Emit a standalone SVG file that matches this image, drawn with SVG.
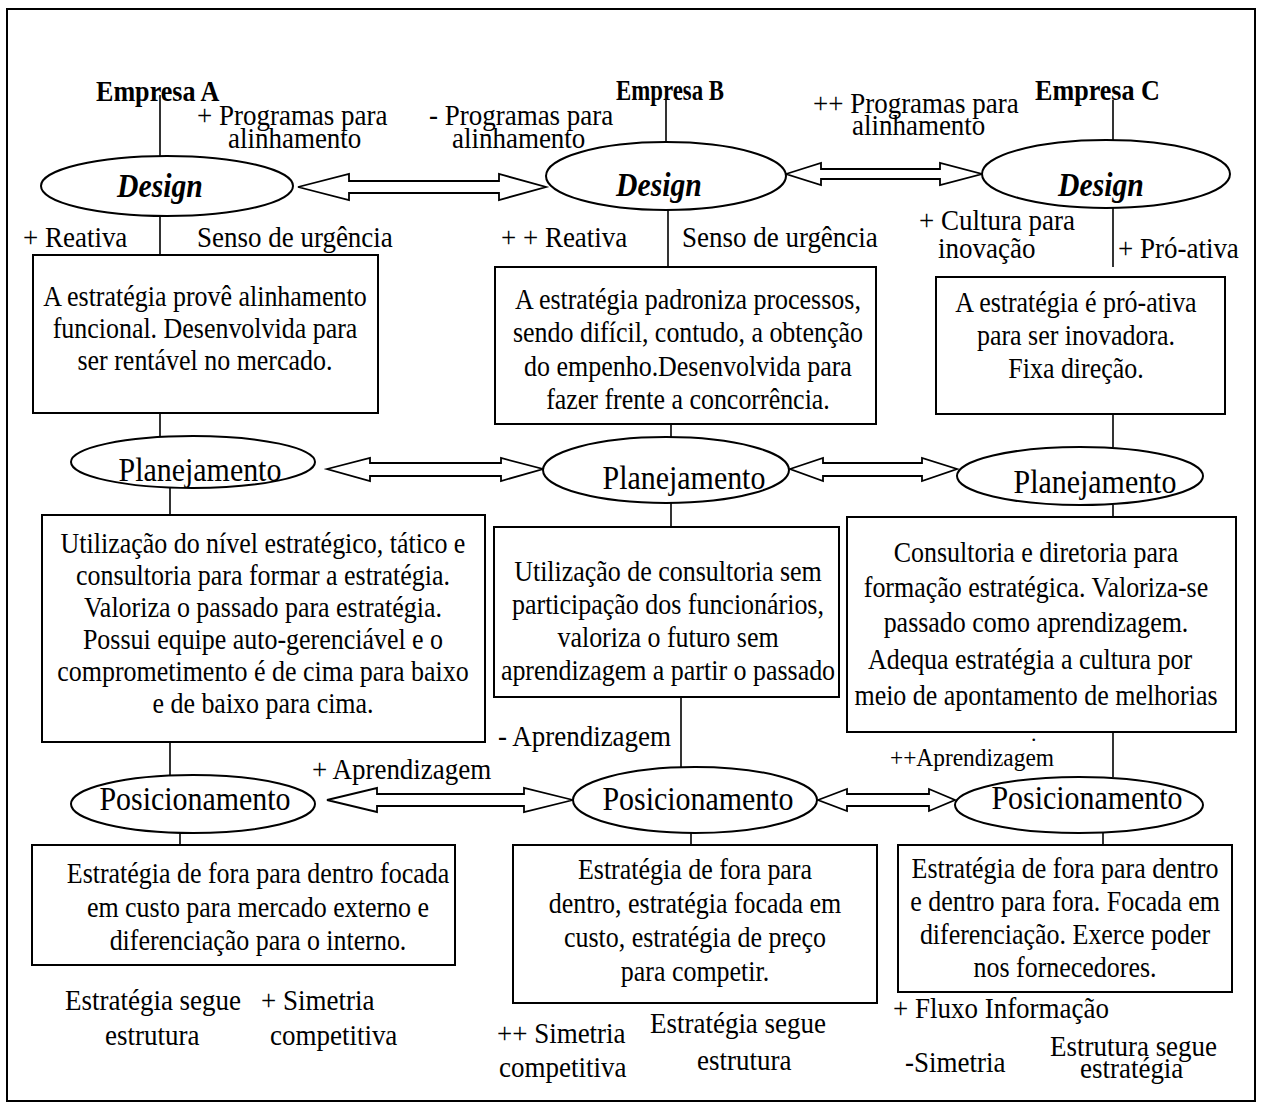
<svg xmlns="http://www.w3.org/2000/svg" width="1261" height="1106" viewBox="0 0 1261 1106">
  <style>
    .frame { fill: #fff; stroke: #000; stroke-width: 2; }
    .box { fill: #fff; stroke: #000; stroke-width: 2; }
    .oval { fill: #fff; stroke: #000; stroke-width: 2; }
    .link { stroke: #000; stroke-width: 1.6; fill: none; }
    .dbl { fill: #fff; stroke: #000; stroke-width: 1.8; stroke-linejoin: miter; }
    text { font-family: "Liberation Serif", "Times New Roman", serif; fill: #000; transform-box: fill-box; }
    /* narrow, tall serif look: larger size squeezed horizontally */
    .t { font-size: 29.5px; text-anchor: middle; transform-origin: 50% 50%; transform: scaleX(0.88); }
    .lbl { font-size: 30px; transform-origin: 0% 50%; transform: scaleX(0.9); }
    .oname { font-size: 34px; text-anchor: middle; transform-origin: 50% 50%; transform: scaleX(0.88); }
    .design { font-size: 33px; font-weight: bold; font-style: italic; text-anchor: middle; transform-origin: 50% 50%; transform: scaleX(0.9); }
    .firm { font-size: 29px; font-weight: bold; transform-origin: 0% 50%; transform: scaleX(0.9); }
    .dot { font-size: 22px; }
  </style>

  <rect class="frame" x="7" y="9" width="1248" height="1092"/>

  <!-- vertical links and double arrows -->
  <g id="connectors">
    <line class="link" x1="160" y1="95" x2="160" y2="156"/>
    <line class="link" x1="666" y1="100" x2="666" y2="142"/>
    <line class="link" x1="1113" y1="100" x2="1113" y2="141"/>

    <line class="link" x1="160" y1="216" x2="160" y2="255"/>
    <line class="link" x1="668" y1="210" x2="668" y2="267"/>
    <line class="link" x1="1113" y1="208" x2="1113" y2="267"/>

    <line class="link" x1="160" y1="413" x2="160" y2="437"/>
    <line class="link" x1="671" y1="424" x2="671" y2="437"/>
    <line class="link" x1="1113" y1="414" x2="1113" y2="447"/>

    <line class="link" x1="170" y1="488" x2="170" y2="515"/>
    <line class="link" x1="671" y1="503" x2="671" y2="527"/>
    <line class="link" x1="1113" y1="505" x2="1113" y2="517"/>

    <line class="link" x1="170" y1="742" x2="170" y2="775"/>
    <line class="link" x1="681" y1="697" x2="681" y2="767"/>
    <line class="link" x1="1113" y1="732" x2="1113" y2="777"/>

    <line class="link" x1="180" y1="833" x2="180" y2="845"/>
    <line class="link" x1="691" y1="833" x2="691" y2="845"/>
    <line class="link" x1="1103" y1="833" x2="1103" y2="845"/>

    <!-- Design row -->
    <polygon class="dbl" points="298,187 349,174 349,181 499,181 499,174 546,187 499,200 499,193 349,193 349,200"/>
    <polygon class="dbl" points="786,174 821,163 821,169 940,169 940,163 982,174 940,185 940,179 821,179 821,185"/>
    <!-- Planejamento row -->
    <polygon class="dbl" points="327,469 370,458 370,463 501,463 501,458 543,469 501,481 501,476 370,476 370,481"/>
    <polygon class="dbl" points="790,469 823,458 823,463 922,463 922,458 957,469 922,481 922,476 823,476 823,481"/>
    <!-- Posicionamento row -->
    <polygon class="dbl" points="327,800 377,788 377,794 524,794 524,788 573,800 524,812 524,806 377,806 377,812"/>
    <polygon class="dbl" points="818,800 847,789 847,794 929,794 929,789 955,800 929,811 929,806 847,806 847,811"/>
  </g>

  <!-- company headers -->
  <g id="empresa-a"><text class="firm" x="96" y="101">Empresa A</text></g>
  <g id="empresa-b"><text class="firm" x="616" y="100" textLength="120" lengthAdjust="spacingAndGlyphs">Empresa B</text></g>
  <g id="empresa-c"><text class="firm" x="1035" y="100">Empresa C</text></g>

  <!-- Design -->
  <g id="design-a"><ellipse class="oval" cx="167" cy="186" rx="126" ry="30"/><text class="design" x="160" y="197">Design</text></g>
  <g id="design-b"><ellipse class="oval" cx="666" cy="176" rx="120" ry="34"/><text class="design" x="659" y="196">Design</text></g>
  <g id="design-c"><ellipse class="oval" cx="1106" cy="174" rx="124" ry="34"/><text class="design" x="1101" y="196">Design</text></g>

  <!-- labels around the Design row -->
  <g id="labels-design">
    <text class="lbl" x="197" y="125">+ Programas para</text>
    <text class="lbl" x="228" y="148">alinhamento</text>
    <text class="lbl" x="429" y="125">- Programas para</text>
    <text class="lbl" x="452" y="148">alinhamento</text>
    <text class="lbl" x="813" y="113">++ Programas para</text>
    <text class="lbl" x="852" y="135">alinhamento</text>
    <text class="lbl" x="23" y="247">+ Reativa</text>
    <text class="lbl" x="197" y="247">Senso de urgência</text>
    <text class="lbl" x="501" y="247">+ + Reativa</text>
    <text class="lbl" x="682" y="247">Senso de urgência</text>
    <text class="lbl" x="919" y="230">+ Cultura para</text>
    <text class="lbl" x="938" y="258">inovação</text>
    <text class="lbl" x="1118" y="258">+ Pró-ativa</text>
  </g>

  <!-- strategy boxes -->
  <g id="estrategia-a">
    <rect class="box" x="33" y="255" width="345" height="158"/>
    <text class="t" x="205" y="306">A estratégia provê alinhamento</text>
    <text class="t" x="205" y="338">funcional. Desenvolvida para</text>
    <text class="t" x="205" y="370">ser rentável no mercado.</text>
  </g>
  <g id="estrategia-b">
    <rect class="box" x="495" y="267" width="381" height="157"/>
    <text class="t" x="688" y="309">A estratégia padroniza processos,</text>
    <text class="t" x="688" y="342">sendo difícil, contudo, a obtenção</text>
    <text class="t" x="688" y="376">do empenho.Desenvolvida para</text>
    <text class="t" x="688" y="409">fazer frente a concorrência.</text>
  </g>
  <g id="estrategia-c">
    <rect class="box" x="936" y="277" width="289" height="137"/>
    <text class="t" x="1076" y="312">A estratégia é pró-ativa</text>
    <text class="t" x="1076" y="345">para ser inovadora.</text>
    <text class="t" x="1076" y="378">Fixa direção.</text>
  </g>

  <!-- Planejamento -->
  <g id="planejamento-a"><ellipse class="oval" cx="193" cy="462" rx="122" ry="26"/><text class="oname" x="200" y="481">Planejamento</text></g>
  <g id="planejamento-b"><ellipse class="oval" cx="666" cy="470" rx="123" ry="33"/><text class="oname" x="684" y="489">Planejamento</text></g>
  <g id="planejamento-c"><ellipse class="oval" cx="1080" cy="476" rx="123" ry="29"/><text class="oname" x="1095" y="493">Planejamento</text></g>

  <!-- planning boxes -->
  <g id="planejamento-texto-a">
    <rect class="box" x="42" y="515" width="443" height="227"/>
    <text class="t" x="263" y="553">Utilização do nível estratégico, tático e</text>
    <text class="t" x="263" y="585">consultoria para formar a estratégia.</text>
    <text class="t" x="263" y="617">Valoriza o passado para estratégia.</text>
    <text class="t" x="263" y="649">Possui equipe auto-gerenciável e o</text>
    <text class="t" x="263" y="681">comprometimento é de cima para baixo</text>
    <text class="t" x="263" y="713">e de baixo para cima.</text>
  </g>
  <g id="planejamento-texto-b">
    <rect class="box" x="494" y="527" width="345" height="170"/>
    <text class="t" x="668" y="581">Utilização de consultoria sem</text>
    <text class="t" x="668" y="614">participação dos funcionários,</text>
    <text class="t" x="668" y="647">valoriza o futuro sem</text>
    <text class="t" x="668" y="680">aprendizagem a partir o passado</text>
  </g>
  <g id="planejamento-texto-c">
    <rect class="box" x="847" y="517" width="389" height="215"/>
    <text class="t" x="1036" y="562">Consultoria e diretoria para</text>
    <text class="t" x="1036" y="597">formação estratégica. Valoriza-se</text>
    <text class="t" x="1036" y="632">passado como aprendizagem.</text>
    <text class="t" x="1030" y="669">Adequa estratégia a cultura por</text>
    <text class="t" x="1036" y="705">meio de apontamento de melhorias</text>
    <text class="dot" x="1031" y="741">.</text>
  </g>

  <!-- labels around the Posicionamento row -->
  <g id="labels-aprendizagem">
    <text class="lbl" x="498" y="746">- Aprendizagem</text>
    <text class="lbl" x="312" y="779">+ Aprendizagem</text>
    <text class="lbl" x="890" y="766" style="font-size:26px">++Aprendizagem</text>
  </g>

  <!-- Posicionamento -->
  <g id="posicionamento-a"><ellipse class="oval" cx="193" cy="804" rx="122" ry="29"/><text class="oname" x="195" y="810">Posicionamento</text></g>
  <g id="posicionamento-b"><ellipse class="oval" cx="695" cy="800" rx="122" ry="33"/><text class="oname" x="698" y="810">Posicionamento</text></g>
  <g id="posicionamento-c"><ellipse class="oval" cx="1079" cy="805" rx="124" ry="28"/><text class="oname" x="1087" y="809">Posicionamento</text></g>

  <!-- positioning boxes -->
  <g id="posicionamento-texto-a">
    <rect class="box" x="32" y="845" width="423" height="120"/>
    <text class="t" x="258" y="883">Estratégia de fora para dentro focada</text>
    <text class="t" x="258" y="917">em custo para mercado externo e</text>
    <text class="t" x="258" y="950">diferenciação para o interno.</text>
  </g>
  <g id="posicionamento-texto-b">
    <rect class="box" x="513" y="845" width="364" height="158"/>
    <text class="t" x="695" y="879">Estratégia de fora para</text>
    <text class="t" x="695" y="913">dentro, estratégia focada em</text>
    <text class="t" x="695" y="947">custo, estratégia de preço</text>
    <text class="t" x="695" y="981">para competir.</text>
  </g>
  <g id="posicionamento-texto-c">
    <rect class="box" x="898" y="845" width="334" height="147"/>
    <text class="t" x="1065" y="878">Estratégia de fora para dentro</text>
    <text class="t" x="1065" y="911">e dentro para fora. Focada em</text>
    <text class="t" x="1065" y="944">diferenciação. Exerce poder</text>
    <text class="t" x="1065" y="977">nos fornecedores.</text>
  </g>

  <!-- closing remarks under each company -->
  <g id="notas-a">
    <text class="lbl" x="65" y="1010">Estratégia segue</text>
    <text class="lbl" x="105" y="1045">estrutura</text>
    <text class="lbl" x="261" y="1010">+ Simetria</text>
    <text class="lbl" x="270" y="1045">competitiva</text>
  </g>
  <g id="notas-b">
    <text class="lbl" x="497" y="1043">++ Simetria</text>
    <text class="lbl" x="499" y="1077">competitiva</text>
    <text class="lbl" x="650" y="1033">Estratégia segue</text>
    <text class="lbl" x="697" y="1070">estrutura</text>
  </g>
  <g id="notas-c">
    <text class="lbl" x="893" y="1018">+ Fluxo Informação</text>
    <text class="lbl" x="905" y="1072">-Simetria</text>
    <text class="lbl" x="1050" y="1056">Estrutura segue</text>
    <text class="lbl" x="1080" y="1078">estratégia</text>
  </g>
</svg>
